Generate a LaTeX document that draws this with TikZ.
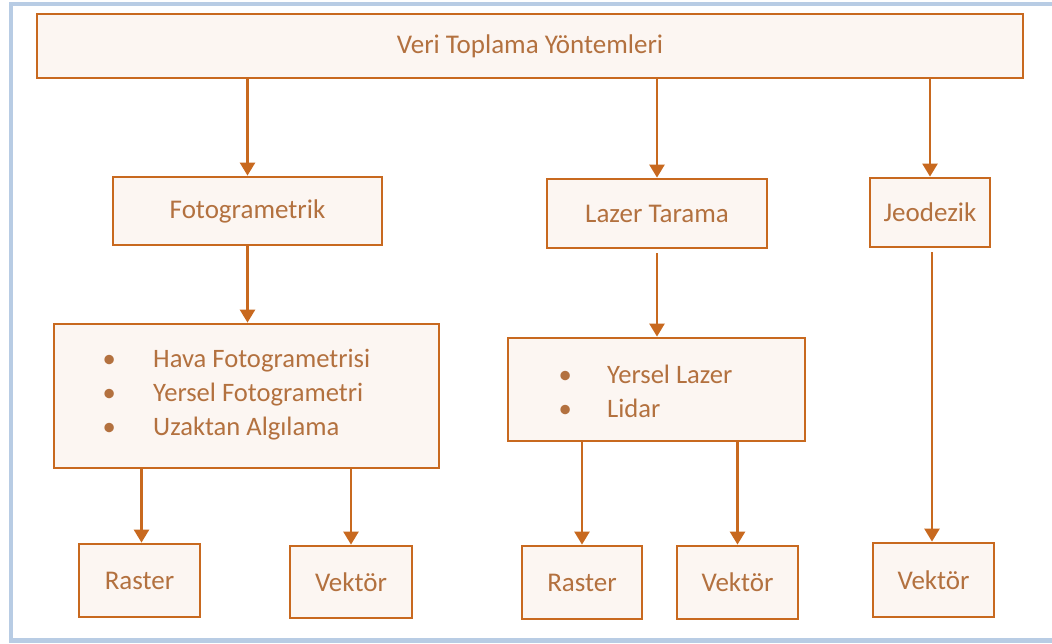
\documentclass[tikz,border=0pt]{standalone}
\usepackage{fontspec}
\setmainfont{Carlito}
\usetikzlibrary{arrows.meta}
\definecolor{edge}{HTML}{C8691F}
\definecolor{boxfill}{HTML}{FCF6F2}
\definecolor{txt}{HTML}{B3713F}
\definecolor{frame}{HTML}{B8CCE4}
\tikzset{
  box/.style={draw=edge, line width=2.8pt, fill=boxfill, inner sep=0pt,
    font=\fontsize{27}{34}\selectfont, text=txt},
  item/.style={anchor=base west, inner sep=0pt, font=\fontsize{26.6}{34}\selectfont, text=txt},
  arr/.style={draw=edge, line width=2.5pt, -{Triangle[width=15pt,length=13pt]}}
}
\begin{document}
\begin{tikzpicture}[x=1pt,y=-1pt]
\useasboundingbox (0,0) rectangle (1052,643);
\fill[white] (0,0) rectangle (1052,643);
% outer frame
\fill[frame] (9,2) rectangle (1052,6);
\fill[frame] (9,2) rectangle (13,643);
\fill[frame] (9,638) rectangle (1052,643);
% boxes
\node[box, minimum width=986pt, minimum height=64pt] (top) at (530,46) {Veri Toplama Yöntemleri};
\node[box, minimum width=269pt, minimum height=68pt] (fot) at (247.5,211) {\raisebox{-2pt}{Fotogrametrik}};
\node[box, minimum width=220pt, minimum height=69pt] (laz) at (657,213.5) {Lazer Tarama};
\node[box, minimum width=120pt, minimum height=69pt] (jeo) at (930,212.5) {Jeodezik};
\node[box, minimum width=385pt, minimum height=144pt] (b1) at (246.5,396) {};
\node[box, minimum width=297pt, minimum height=103pt] (b2) at (656.5,389.5) {};
\node[box, minimum width=121pt, minimum height=73pt] (r1) at (139.5,580.5) {Raster};
\node[box, minimum width=122pt, minimum height=72pt] (v1) at (351,582) {Vektör};
\node[box, minimum width=120pt, minimum height=73pt] (r2) at (582,582.5) {Raster};
\node[box, minimum width=121pt, minimum height=73pt] (v2) at (737.5,582.5) {Vektör};
\node[box, minimum width=121pt, minimum height=74pt] (v3) at (933.5,580) {Vektör};
% bullet items
\node[item] (h1) at (153,367) {\llap{\makebox[88pt]{•}}Hava Fotogrametrisi};
\node[item] (h2) at (153,401) {\llap{\makebox[88pt]{•}}Yersel Fotogrametri};
\node[item] (h3) at (153,435) {\llap{\makebox[88pt]{•}}Uzaktan Algılama};
\node[item] (l1) at (607,383) {\llap{\makebox[84pt]{•}}Yersel Lazer};
\node[item] (l2) at (607,417) {\llap{\makebox[84pt]{•}}Lidar};
% connectors
\draw[arr] (top.south -| fot.north) -- (fot.north);
\draw[arr] (top.south -| laz.north) -- (laz.north);
\draw[arr] (top.south -| jeo.north) -- (jeo.north);
\draw[arr] (fot.south) -- (fot.south |- b1.north);
\draw[arr, shorten <=4pt] (laz.south) -- (laz.south |- b2.north);
\draw[arr, shorten <=4pt] ([xshift=2pt]jeo.south) -- ([xshift=2pt]jeo.south |- v3.north);
\draw[arr] ([xshift=2pt]b1.south -| r1.north) -- ([xshift=2pt]r1.north);
\draw[arr] (b1.south -| v1.north) -- (v1.north);
\draw[arr] (b2.south -| r2.north) -- (r2.north);
\draw[arr] (b2.south -| v2.north) -- (v2.north);
\end{tikzpicture}
\end{document}
